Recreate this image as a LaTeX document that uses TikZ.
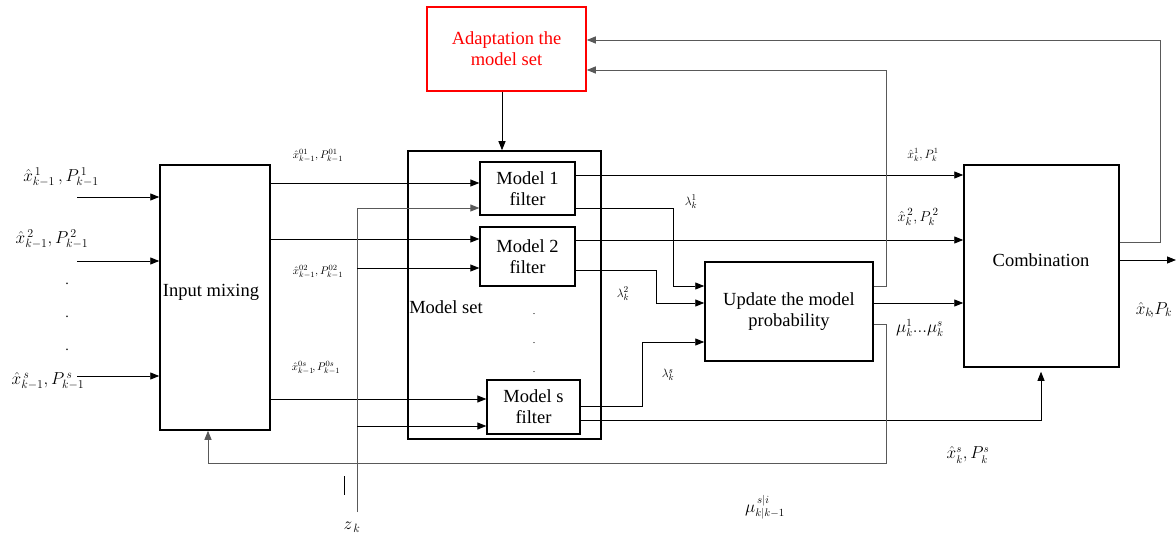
\documentclass[tikz,border=0pt]{standalone}
\usepackage{fontspec}
\setmainfont{Liberation Serif}
\usetikzlibrary{arrows.meta}
\begin{document}
\begin{tikzpicture}[x=1pt,y=-1pt,
  box/.style={draw,line width=1.5pt,align=center,inner sep=2pt,font=\fontsize{18.5}{21}\selectfont},
  arr/.style={line width=0.8pt,-{Triangle[length=9pt,width=7pt]}},
  ln/.style={line width=0.8pt},
  gl/.style={line width=0.8pt,draw=black!65},
  garr/.style={line width=0.8pt,draw=black!65,-{Triangle[length=9pt,width=7pt]}},
  lab/.style={inner sep=0pt,font=\fontsize{#1}{#1}\selectfont},
  dotlab/.style={inner sep=0pt,anchor=base,font=\fontsize{14}{14}\selectfont}]
\useasboundingbox (0,0) rectangle (1176,540);
% boxes
\node[box,minimum width=110pt,minimum height=265pt] (mix) at (215,297.5) {};
\node[font=\fontsize{18.5}{21}\selectfont] (mixt) at (211,292) {Input mixing};
\node[box,minimum width=193pt,minimum height=288pt] (mset) at (504.5,295) {};
\node[font=\fontsize{18.5}{21}\selectfont,inner sep=0pt] (msett) at (446,307) {Model set};
\node[box,minimum width=95pt,minimum height=53pt,line width=1.3pt] (m1) at (527.5,188.5) {Model 1\\filter};
\node[box,minimum width=95pt,minimum height=59pt,line width=1.3pt] (m2) at (527.5,256.5) {Model 2\\filter};
\node[box,minimum width=93pt,minimum height=54pt,line width=1.3pt] (ms) at (533.5,407) {Model s\\filter};
\node[box,minimum width=168pt,minimum height=99pt] (upd) at (789,311.5) {Update the model\\probability};
\node[box,minimum width=155pt,minimum height=202pt] (comb) at (1041.5,266) {};
\node[font=\fontsize{18.5}{21}\selectfont] (combt) at (1041,260) {Combination};
\node[box,draw=red,text=red,minimum width=159pt,minimum height=84pt] (adapt) at (506.5,49) {Adaptation the\\model set};
% inputs
\coordinate (i1) at (77,197);
\coordinate (i2) at (77,261);
\coordinate (i3) at (77,376);
\draw[arr] (i1) -- (mix.west |- i1);
\draw[arr] (i2) -- (mix.west |- i2);
\draw[arr] (i3) -- (mix.west |- i3);
% mix to models
\draw[arr] (mix.east |- 0,183) -- (m1.west |- 0,183);
\draw[arr] (mix.east |- 0,239) -- (m2.west |- 0,239);
\draw[arr] (mix.east |- 0,399) -- (ms.west |- 0,399);
% z_k line
\coordinate (zb) at (357,512);
\coordinate (z2) at (357,268);
\coordinate (z3) at (357,426);
\draw[garr] (zb) |- (m1.west |- 0,208);
\draw[arr] (z2) -- (m2.west |- z2);
\draw[arr] (z3) -- (ms.west |- z3);
\draw[ln] (344,476) -- (344,495);
% adaptation down
\draw[arr] (adapt.south -| 502,0) -- (mset.north -| 502,0);
% model outputs
\draw[arr] (m1.east |- 0,175) -- (comb.west |- 0,175);
\draw[arr] (m2.east |- 0,240) -- (comb.west |- 0,240);
\draw[arr] (m1.east |- 0,208) -- (673,208) -- (673,286) -- (upd.west |- 0,286);
\draw[arr] (m2.east |- 0,270) -- (656,270) -- (656,303) -- (upd.west |- 0,303);
\draw[arr] (ms.east |- 0,406) -- (642,406) -- (642,342) -- (upd.west |- 0,342);
\draw[arr] (ms.east |- 0,420) -- (1041,420) -- ([yshift=-4pt]comb.south -| 1041,0);
% update outputs
\draw[arr] (upd.east |- 0,303) -- (comb.west |- 0,303);
\draw[garr] (upd.east |- 0,286) -- (886,286) -- (886,70) -- (adapt.east |- 0,70);
\draw[garr] (upd.east |- 0,324) -- (886,324) -- (886,463) -- (208,463) -- (mix.south -| 208,0);
% combination outputs
\draw[garr] (comb.east |- 0,242) -- (1160,242) -- (1160,40) -- (adapt.east |- 0,40);
\coordinate (out) at (1176,260);
\draw[arr] (comb.east |- out) -- (out);
% labels
\node[lab=17] (l1) at (61,177) {$\hat{x}^{\,1}_{k-1}\,, P^{\,1}_{k-1}$};
\node[lab=17] (l2) at (52,239) {$\hat{x}^{\,2}_{k-1}, P^{\,2}_{k-1}$};
\node[lab=17] (l3) at (48,381) {$\hat{x}^{\,s}_{k-1}, P^{\,s}_{k-1}$};
\node[dotlab] (d1) at (67,285) {.};
\node[dotlab] (d2) at (67,317) {.};
\node[dotlab] (d3) at (67,350) {.};
\node[dotlab,font=\fontsize{10}{10}\selectfont] (d4) at (534,314) {.};
\node[dotlab,font=\fontsize{10}{10}\selectfont] (d5) at (534,343) {.};
\node[dotlab,font=\fontsize{10}{10}\selectfont] (d6) at (534,372) {.};
\node[lab=11] (l01) at (318,156) {$\hat{x}^{01}_{k-1}, P^{01}_{k-1}$};
\node[lab=11] (l02) at (318,272) {$\hat{x}^{02}_{k-1}, P^{02}_{k-1}$};
\node[lab=11] (l0s) at (316,368) {$\hat{x}^{0s}_{k-1}\!,P^{0s}_{k-1}$};
\node[lab=13] (la1) at (691,202) {$\lambda^{1}_{k}$};
\node[lab=13] (la2) at (623,294) {$\lambda^{2}_{k}$};
\node[lab=13] (las) at (668,375) {$\lambda^{s}_{k}$};
\node[lab=11.5] (o1) at (923,155) {$\hat{x}^{1}_{k}, P^{1}_{k}$};
\node[lab=15] (o2) at (918,217) {$\hat{x}^{\,2}_{k}, P^{\,2}_{k}$};
\node[lab=16] (mu) at (920,328) {$\mu^{1}_{k}...\mu^{s}_{k}$};
\node[lab=17] (ox) at (1154,310) {$\hat{x}_{k}\!,\!P_{k}$};
\node[lab=16] (os) at (968,455) {$\hat{x}^{s}_{k}, P^{s}_{k}$};
\node[lab=16] (mui) at (765,507) {$\mu^{\,s|i}_{k|k-1}$};
\node[lab=18] (zk) at (352,527) {$z_{\,k}$};
\end{tikzpicture}
\end{document}
